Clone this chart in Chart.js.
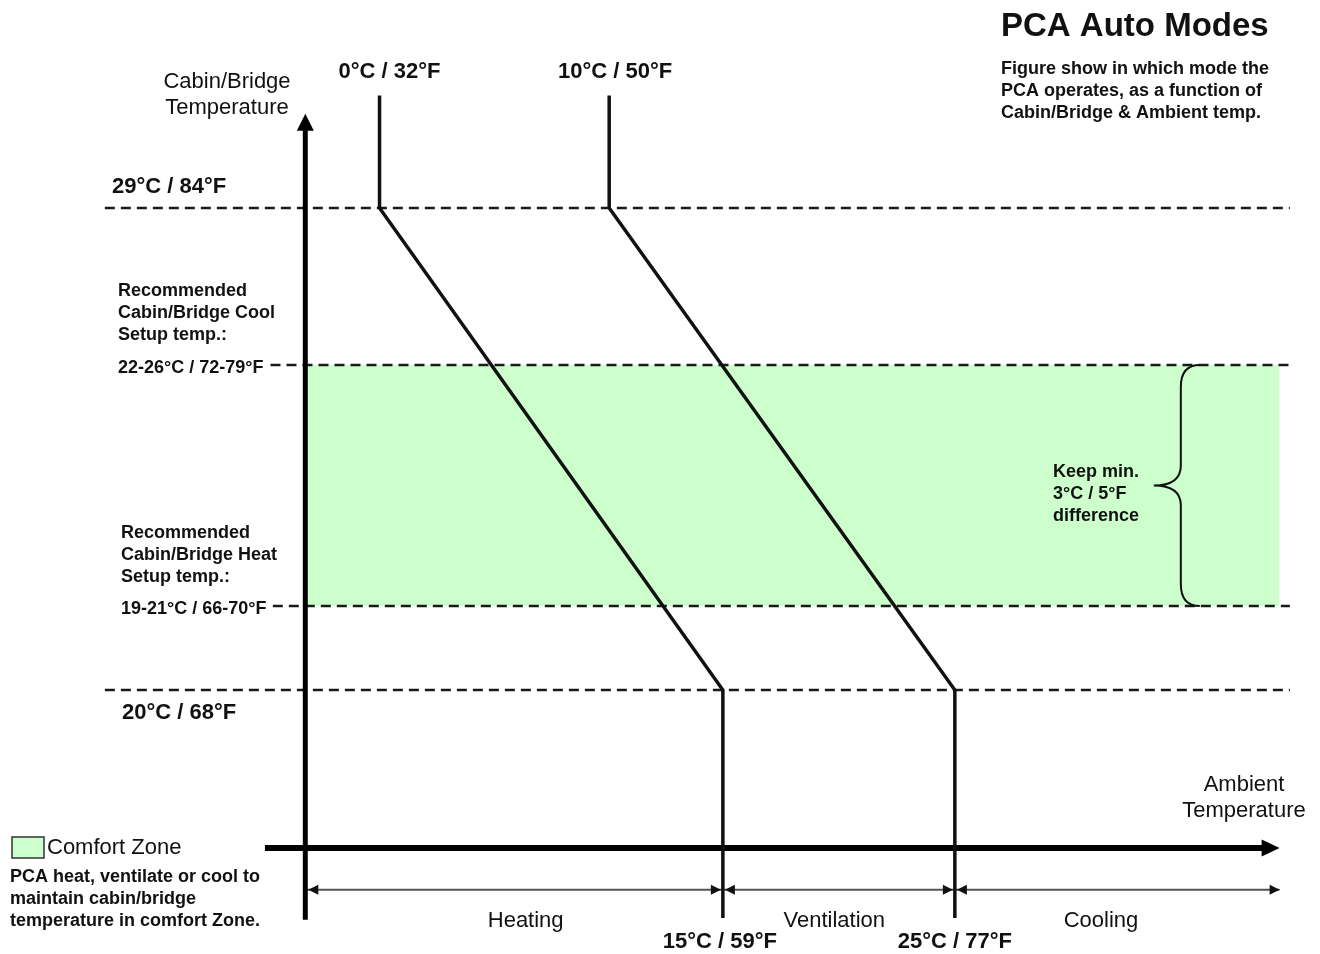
<!DOCTYPE html>
<html>
<head>
<meta charset="utf-8">
<title>PCA Auto Modes</title>
<script src="https://cdn.jsdelivr.net/npm/chart.js@4.4.1/dist/chart.umd.min.js"></script>
<style>
  html, body { margin: 0; padding: 0; background: #fff; }
  #wrap { width: 1320px; height: 954px; }
</style>
</head>
<body>
<div id="wrap"><canvas id="myChart" width="1320" height="954"></canvas></div>
<script>
// ---- DATA (x = ambient temp in °C, y = cabin/bridge temp in °C, as drawn) ----
const profileLabels = ['0°C / 32°F', '10°C / 50°F'];
const heatLineX = [0.2, 0.2, 15, 15];
const coolLineX = [10.1, 10.1, 25, 25];
const profileY = [31.1, 29, 20, 15.74];

const refLevels = [29, 26.07, 21.57, 20];
const refLabels = ['29°C / 84°F', '22-26°C / 72-79°F', '19-21°C / 66-70°F', '20°C / 68°F'];

const comfortLow = 21.57;
const comfortHigh = 26.07;

const modeNames = ['Heating', 'Ventilation', 'Cooling'];
const modeBounds = [-3, 15, 25, 39];
const modeLabelX = [6.5, 19.8, 31.3];
const switchLabels = ['15°C / 59°F', '25°C / 77°F'];

const axisX = -3;      // where the cabin axis sits on the ambient scale
const axisY = 17.05;   // where the ambient axis sits on the cabin scale
const dimY = 16.27;    // mode span line

const FONT = '"Liberation Sans", Arial, sans-serif';
const INK = '#111';
const GREEN = '#ccffcc';

const toPts = (xs, ys) => xs.map((v, i) => ({x: v, y: ys[i]}));

// ---- DATASETS ----
const refStart = [-11.64, -4.5, -4.4, -11.64];
const datasets = [];

[heatLineX, coolLineX].forEach((xs) => {
  datasets.push({
    data: toPts(xs, profileY),
    borderColor: INK, borderWidth: 3.5, borderJoinStyle: 'miter', order: 1
  });
});

// axes
datasets.push({data: [{x: axisX, y: 15.71}, {x: axisX, y: 30.45}], borderColor: '#000', borderWidth: 5, order: 2});
datasets.push({data: [{x: -4.74, y: axisY}, {x: 38.3, y: axisY}], borderColor: '#000', borderWidth: 6, order: 2});

// mode span line
datasets.push({data: [{x: modeBounds[0], y: dimY}, {x: modeBounds[3], y: dimY}], borderColor: '#555', borderWidth: 2, order: 3});

refLevels.forEach((lv, i) => {
  datasets.push({
    data: [{x: refStart[i], y: lv}, {x: 39.44, y: lv}],
    borderColor: '#1a1a1a', borderWidth: 2.5, borderDash: [10, 6], order: 4
  });
});

// comfort zone band
datasets.push({
  data: [{x: axisX, y: comfortHigh}, {x: modeBounds[3], y: comfortHigh}],
  borderWidth: 0, borderColor: 'rgba(0,0,0,0)', backgroundColor: GREEN,
  fill: {value: comfortLow}, order: 10
});

//----PLUGINS----------------------------
function txt(ctx, s, x, y, size, bold, align) {
  ctx.font = (bold ? 'bold ' : '') + size + 'px ' + FONT;
  ctx.textAlign = align || 'left';
  ctx.fillText(s, x, y);
}

function tri(ctx, tipX, tipY, dir, len, half) {
  ctx.beginPath();
  ctx.moveTo(tipX, tipY);
  if (dir === 'up') { ctx.lineTo(tipX - half, tipY + len); ctx.lineTo(tipX + half, tipY + len); }
  if (dir === 'right') { ctx.lineTo(tipX - len, tipY - half); ctx.lineTo(tipX - len, tipY + half); }
  if (dir === 'left') { ctx.lineTo(tipX + len, tipY - half); ctx.lineTo(tipX + len, tipY + half); }
  ctx.closePath();
  ctx.fill();
}

const annotations = {
  id: 'annotations',
  afterDatasetsDraw(chart) {
    const {ctx, scales: {x, y}} = chart;
    ctx.save();
    ctx.fillStyle = '#000';

    // axis arrow heads
    tri(ctx, x.getPixelForValue(axisX), y.getPixelForValue(30.76), 'up', 17, 8.5);
    tri(ctx, x.getPixelForValue(39.0), y.getPixelForValue(axisY), 'right', 18, 8.5);

    // span arrow heads
    const dy = y.getPixelForValue(dimY);
    ctx.fillStyle = '#111';
    tri(ctx, x.getPixelForValue(modeBounds[0]) + 3, dy, 'left', 10, 5);
    [modeBounds[1], modeBounds[2]].forEach((b) => {
      const bx = x.getPixelForValue(b);
      tri(ctx, bx - 2, dy, 'right', 10, 5);
      tri(ctx, bx + 2, dy, 'left', 10, 5);
    });
    tri(ctx, x.getPixelForValue(modeBounds[3]), dy, 'right', 10, 5);

    // brace beside the comfort band
    const yT = y.getPixelForValue(comfortHigh), yB = y.getPixelForValue(comfortLow);
    const yM = (yT + yB) / 2;
    const xe = x.getPixelForValue(35.56), xs = xe - 19, xt = xe - 46;
    ctx.strokeStyle = '#111';
    ctx.lineWidth = 2;
    ctx.beginPath();
    ctx.moveTo(xe, yT);
    ctx.quadraticCurveTo(xs, yT, xs, yT + 22);
    ctx.lineTo(xs, yM - 20);
    ctx.quadraticCurveTo(xs, yM, xt, yM);
    ctx.quadraticCurveTo(xs, yM, xs, yM + 20);
    ctx.lineTo(xs, yB - 22);
    ctx.quadraticCurveTo(xs, yB, xe, yB);
    ctx.stroke();

    ctx.fillStyle = INK;
    ctx.textBaseline = 'middle';

    // title block
    txt(ctx, 'PCA Auto Modes', 1001, 27, 33, true);
    ['Figure show in which mode the', 'PCA operates, as a function of', 'Cabin/Bridge & Ambient temp.']
      .forEach((s, i) => txt(ctx, s, 1001, 69 + i * 22, 18, true));

    // axis titles
    txt(ctx, 'Cabin/Bridge', 227, 82, 22, false, 'center');
    txt(ctx, 'Temperature', 227, 108, 22, false, 'center');
    txt(ctx, 'Ambient', 1244, 785, 22, false, 'center');
    txt(ctx, 'Temperature', 1244, 811, 22, false, 'center');

    // profile line labels
    txt(ctx, profileLabels[0], x.getPixelForValue(heatLineX[0]) + 10, 72, 22, true, 'center');
    txt(ctx, profileLabels[1], x.getPixelForValue(coolLineX[0]) + 6, 72, 22, true, 'center');

    // level labels
    txt(ctx, refLabels[0], 112, y.getPixelForValue(refLevels[0]) - 21, 22, true);
    txt(ctx, refLabels[1], 118, y.getPixelForValue(refLevels[1]) + 3, 18, true);
    txt(ctx, refLabels[2], 121, y.getPixelForValue(refLevels[2]) + 3, 18, true);
    txt(ctx, refLabels[3], 122, y.getPixelForValue(refLevels[3]) + 23, 22, true);

    ['Recommended', 'Cabin/Bridge Cool', 'Setup temp.:'].forEach((s, i) => txt(ctx, s, 118, 291 + i * 22, 18, true));
    ['Recommended', 'Cabin/Bridge Heat', 'Setup temp.:'].forEach((s, i) => txt(ctx, s, 121, 533 + i * 22, 18, true));
    ['Keep min.', '3°C / 5°F', 'difference'].forEach((s, i) => txt(ctx, s, 1053, 472 + i * 22, 18, true));

    // modes and switch points
    modeNames.forEach((m, i) => txt(ctx, m, x.getPixelForValue(modeLabelX[i]), 921, 22, false, 'center'));
    switchLabels.forEach((s, i) => txt(ctx, s, x.getPixelForValue(modeBounds[i + 1]) - (i ? 0 : 3), 942, 22, true, 'center'));

    // legend
    ctx.fillStyle = GREEN;
    ctx.fillRect(12, 837, 32, 21);
    ctx.strokeStyle = '#333';
    ctx.lineWidth = 1.5;
    ctx.strokeRect(12, 837, 32, 21);
    ctx.fillStyle = INK;
    txt(ctx, 'Comfort Zone', 47, 848, 22, false);
    ['PCA heat, ventilate or cool to', 'maintain cabin/bridge', 'temperature in comfort Zone.']
      .forEach((s, i) => txt(ctx, s, 10, 877 + i * 22, 18, true));

    ctx.restore();
  }
};

//-----CONFIG------------------------------------------
const config = {
  type: 'scatter',
  data: {datasets},
  options: {
    responsive: false,
    animation: false,
    events: [],
    layout: {padding: 0},
    showLine: true,
    elements: {point: {radius: 0}, line: {tension: 0, fill: false}},
    scales: {
      x: {type: 'linear', display: false, min: -16.16, max: 40.74},
      y: {type: 'linear', display: false, min: 15.07, max: 32.884}
    },
    plugins: {legend: {display: false}, tooltip: {enabled: false}}
  },
  plugins: [annotations]
};

const myChart = new Chart(document.getElementById('myChart'), config);
</script>
</body>
</html>
